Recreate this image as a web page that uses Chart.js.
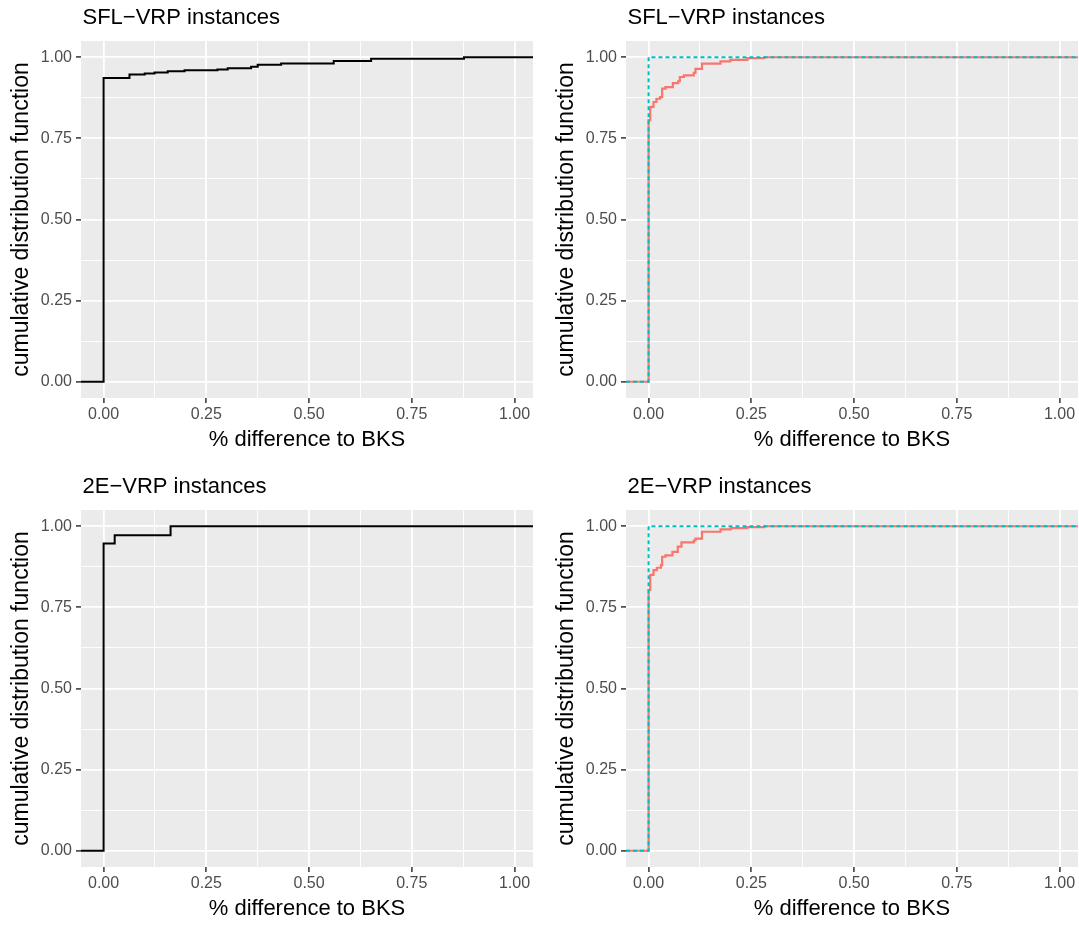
<!DOCTYPE html>
<html>
<head>
<meta charset="utf-8">
<script src="https://cdn.jsdelivr.net/npm/chart.js@4/dist/chart.umd.min.js"></script>
<style>
  html, body { margin: 0; padding: 0; background: #fff; overflow: hidden; }
  canvas { position: absolute; }
</style>
</head>
<body>
<canvas id="c1" width="540" height="460" style="left:0;top:0"></canvas>
<canvas id="c2" width="534" height="460" style="left:545px;top:0"></canvas>
<canvas id="c3" width="540" height="456" style="left:0;top:469px"></canvas>
<canvas id="c4" width="534" height="456" style="left:545px;top:469px"></canvas>
<script>
// 1. data
const gridTicks = [0, 0.125, 0.25, 0.375, 0.5, 0.625, 0.75, 0.875, 1];
const majorTicks = [0, 0.25, 0.5, 0.75, 1];
const xMin = -0.055;
const xMax = 1.045;
const yMin = -0.05;
const yMax = 1.05;

// SFL-VRP, single curve (left top)
const sflX = [0, 0.063, 0.10, 0.124, 0.156, 0.197, 0.277, 0.302, 0.359, 0.375, 0.432, 0.560, 0.651, 0.877];
const sflY = [0.936, 0.947, 0.950, 0.953, 0.957, 0.960, 0.962, 0.966, 0.971, 0.977, 0.981, 0.988, 0.995, 1.0];

// 2E-VRP, single curve (left bottom)
const e2X = [0, 0.027, 0.163];
const e2Y = [0.947, 0.972, 1.0];

// SFL-VRP, two curves (right top)
const sflRedX = [0, 0.004, 0.012, 0.019, 0.028, 0.033, 0.041, 0.059, 0.072, 0.076, 0.086, 0.110, 0.114, 0.130, 0.175, 0.199, 0.240, 0.281];
const sflRedY = [0.806, 0.847, 0.862, 0.872, 0.877, 0.903, 0.908, 0.920, 0.926, 0.939, 0.944, 0.952, 0.964, 0.980, 0.987, 0.992, 0.997, 1.0];
const sflCyanX = [0];
const sflCyanY = [1.0];

// 2E-VRP, two curves (right bottom)
const e2RedX = [0, 0.004, 0.012, 0.020, 0.030, 0.033, 0.041, 0.058, 0.071, 0.080, 0.110, 0.114, 0.130, 0.175, 0.200, 0.240, 0.281];
const e2RedY = [0.804, 0.850, 0.865, 0.872, 0.880, 0.906, 0.910, 0.921, 0.937, 0.950, 0.956, 0.962, 0.983, 0.990, 0.994, 0.997, 1.0];
const e2CyanX = [0];
const e2CyanY = [1.0];

// 2. helpers
function ecdfPoints(xs, ys) {
    const pts = [{ x: xMin, y: 0 }];
    xs.forEach((x, i) => pts.push({ x: x, y: ys[i] }));
    pts.push({ x: xMax, y: ys[ys.length - 1] });
    return pts;
}

function isMajor(v) {
    return majorTicks.some(m => Math.abs(m - v) < 1e-9);
}

const panelPlugin = {
    id: 'panelPlugin',
    beforeDraw(chart) {
        const a = chart.chartArea;
        const ctx = chart.ctx;
        ctx.save();
        ctx.fillStyle = '#EBEBEB';
        ctx.fillRect(a.left, a.top, a.right - a.left, a.bottom - a.top);
        ctx.restore();
    },
    afterDraw(chart, args, opts) {
        const ctx = chart.ctx;
        ctx.save();
        ctx.fillStyle = '#000';
        ctx.font = '22px "Liberation Sans", Arial, sans-serif';
        ctx.textBaseline = 'alphabetic';
        ctx.textAlign = 'left';
        ctx.fillText(opts.text, chart.chartArea.left + 1.5, 24);
        ctx.restore();
    }
};

function axis(isX, xHeight) {
    return {
        type: 'linear',
        min: isX ? xMin : yMin,
        max: isX ? xMax : yMax,
        afterBuildTicks: s => { s.ticks = gridTicks.map(v => ({ value: v })); },
        afterFit: s => {
            if (isX) s.height = xHeight; else s.width = 81;
        },
        border: { display: false },
        grid: {
            color: '#FFFFFF',
            lineWidth: c => isMajor(c.tick.value) ? 1.8 : 0.9,
            tickColor: c => isMajor(c.tick.value) ? '#333333' : 'rgba(0,0,0,0)',
            tickLength: 5,
            tickWidth: 1.5
        },
        ticks: {
            autoSkip: false,
            maxRotation: 0,
            padding: isX ? 2 : 4,
            color: '#4D4D4D',
            font: { family: '"Liberation Sans", Arial, sans-serif', size: 16 },
            callback: v => isMajor(v) ? v.toFixed(2) : ''
        },
        title: {
            display: true,
            text: isX ? '% difference to BKS' : 'cumulative distribution function',
            color: '#000',
            font: { family: '"Liberation Sans", Arial, sans-serif', size: isX ? 22 : 23 },
            padding: isX ? { top: 0, bottom: xHeight === 62 ? 7 : 3 } : { top: 8, bottom: 0 }
        }
    };
}

function makeChart(id, title, datasets, xHeight, rightPad) {
    return new Chart(document.getElementById(id), {
        type: 'line',
        data: { datasets: datasets },
        options: {
            responsive: false,
            animation: false,
            layout: { padding: { top: 41, right: rightPad, left: 0, bottom: 0 } },
            elements: { point: { radius: 0 }, line: { tension: 0 } },
            scales: { x: axis(true, xHeight), y: axis(false, xHeight) },
            plugins: {
                legend: { display: false },
                tooltip: { enabled: false },
                panelPlugin: { text: title }
            }
        },
        plugins: [panelPlugin]
    });
}

function blackLine(xs, ys) {
    return { data: ecdfPoints(xs, ys), borderColor: '#000000', borderWidth: 2, stepped: 'before' };
}
function redLine(xs, ys) {
    return { data: ecdfPoints(xs, ys), borderColor: '#F8766D', borderWidth: 2.2, stepped: 'before', order: 1 };
}
function cyanLine(xs, ys) {
    return { data: ecdfPoints(xs, ys), borderColor: '#00BFC4', borderWidth: 2, borderDash: [4, 3], stepped: 'before', order: 0 };
}

// 3. the four panels
makeChart('c1', 'SFL\u2212VRP instances', [blackLine(sflX, sflY)], 62, 7);
makeChart('c2', 'SFL\u2212VRP instances', [cyanLine(sflCyanX, sflCyanY), redLine(sflRedX, sflRedY)], 62, 1);
makeChart('c3', '2E\u2212VRP instances', [blackLine(e2X, e2Y)], 58, 7);
makeChart('c4', '2E\u2212VRP instances', [cyanLine(e2CyanX, e2CyanY), redLine(e2RedX, e2RedY)], 58, 1);
</script>
</body>
</html>
